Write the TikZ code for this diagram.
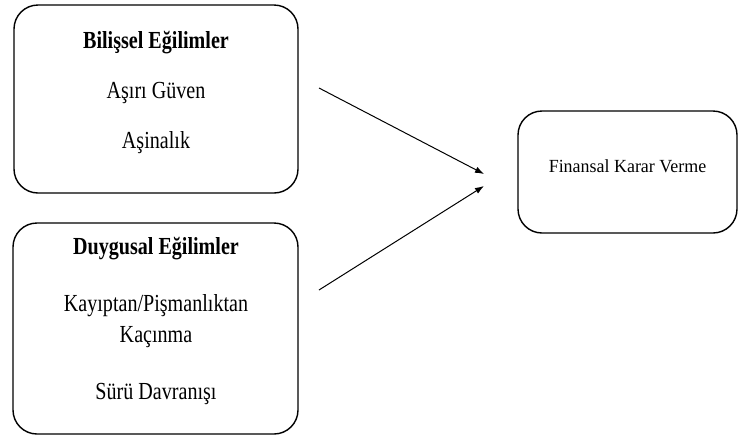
\documentclass[tikz,border=0pt]{standalone}
\usepackage{fontspec}
\setmainfont{Liberation Serif}
\usetikzlibrary{arrows,arrows.meta,positioning}
\newcommand{\narrowtext}[1]{\scalebox{0.82}[1]{#1}}

\begin{document}
\begin{tikzpicture}[x=1pt,y=-1pt]
\tikzstyle{box}=[draw=black, line width=1.4pt, rounded corners=24pt,
inner sep=0pt, outer sep=0pt]
\tikzstyle{label}=[anchor=base, inner sep=0pt, font=\fontsize{24.5}{28}\selectfont]
\tikzstyle{link}=[-{Latex[length=9pt,width=6.5pt]}, line width=1pt]
\useasboundingbox (0,0) rectangle (739,437);

% boxes
\node[box, minimum width=284pt, minimum height=188pt] at (156,99) (bilis) {};
\node[box, minimum width=285pt, minimum height=211pt] at (155.5,328.5) (duygu) {};
\node[box, minimum width=219pt, minimum height=122pt] at (627.5,172) (karar) {};

% texts
\node[label, font=\fontsize{24.5}{28}\selectfont\bfseries] at (156,48) (bilis1) {\narrowtext{Bilişsel Eğilimler}};
\node[label] at (156,98) (bilis2) {\narrowtext{Aşırı Güven}};
\node[label] at (156,148) (bilis3) {\narrowtext{Aşinalık}};
\node[label, font=\fontsize{24.5}{28}\selectfont\bfseries] at (156,254) (duygu1) {\narrowtext{Duygusal Eğilimler}};
\node[label] at (156,311) (duygu2) {\narrowtext{Kayıptan/Pişmanlıktan}};
\node[label] at (156,342) (duygu3) {\narrowtext{Kaçınma}};
\node[label] at (156,399) (duygu4) {\narrowtext{Sürü Davranışı}};
\node[label, font=\fontsize{18.5}{22}\selectfont] at (627.5,172) (karar1) {\scalebox{0.97}[1]{Finansal Karar Verme}};

% arrows
\coordinate (a1) at (319,88);
\coordinate (a2) at (484,174);
\coordinate (b1) at (319,290);
\coordinate (b2) at (484,186);
\path[link] (a1) edge (a2) ;
\path[link] (b1) edge (b2) ;

\end{tikzpicture}
\end{document}
